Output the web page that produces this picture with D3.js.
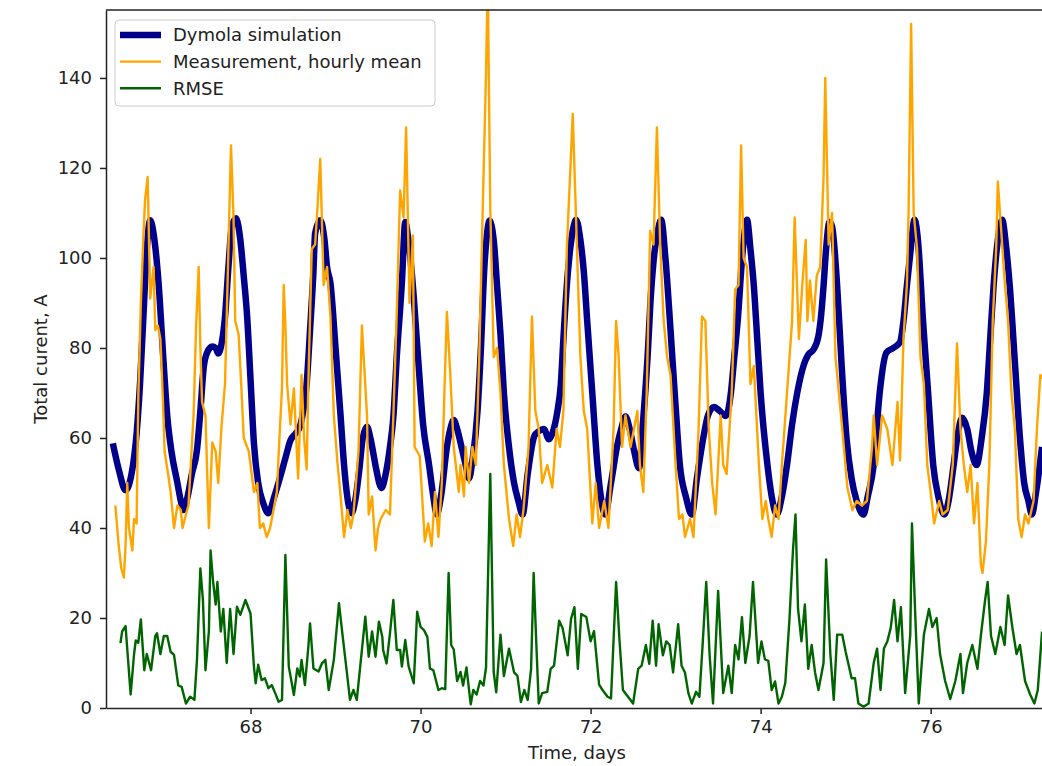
<!DOCTYPE html>
<html>
<head>
<meta charset="utf-8">
<script src="https://cdn.jsdelivr.net/npm/d3@7"></script>
<style>
  body { margin: 0; background: #fff; }
  text { font-family: "DejaVu Sans", sans-serif; }
</style>
</head>
<body>
<svg id="chart"></svg>
<script>
// Dymola simulation (days, A)
const simDays = [
  66.38,66.45,66.53,66.60,66.66,66.70,66.74,66.78,66.82,66.87,66.92,66.97,
  67.02,67.07,67.14,67.18,67.21,67.26,67.31,67.37,67.41,67.45,67.49,67.55,67.59,67.62,67.66,67.70,67.74,67.78,67.83,67.88,67.92,67.96,
  68.00,68.04,68.09,68.15,68.21,68.28,68.35,68.41,68.47,68.53,68.58,68.62,68.66,68.70,68.74,68.76,68.82,68.87,68.90,68.94,
  69.00,69.06,69.10,69.15,69.19,69.23,69.28,69.32,69.37,69.41,69.45,69.48,69.54,69.59,69.64,69.68,69.72,69.78,69.82,69.85,69.90,69.97,
  70.03,70.10,70.15,70.19,70.24,70.31,70.35,70.39,70.43,70.49,70.53,70.57,70.61,70.67,70.71,70.75,70.78,70.81,70.86,70.90,70.94,70.98,
  71.04,71.10,71.15,71.20,71.26,71.34,71.39,71.45,71.51,71.55,71.61,71.65,71.68,71.72,71.76,71.80,71.83,71.88,71.92,71.96,
  72.02,72.08,72.12,72.17,72.24,72.31,72.36,72.41,72.46,72.51,72.57,72.61,72.67,72.71,72.75,72.79,72.83,72.88,72.94,
  73.00,73.05,73.12,73.19,73.25,73.33,73.38,73.45,73.52,73.59,73.65,73.69,73.73,73.79,73.84,73.88,73.92,73.96,
  74.00,74.08,74.13,74.19,74.25,74.31,74.37,74.43,74.51,74.56,74.62,74.68,74.71,74.74,74.77,74.81,74.84,74.90,74.95,
  75.01,75.07,75.13,75.21,75.26,75.33,75.40,75.48,75.56,75.64,75.68,75.72,75.76,75.81,75.85,75.91,75.97,
  76.03,76.09,76.16,76.21,76.27,76.32,76.37,76.43,76.48,76.54,76.60,76.66,76.70,76.74,76.79,76.84,76.89,76.93,76.99,
  77.05,77.10,77.15,77.19,77.24,77.31
];
const simAmps = [
  58.8,53,48.4,52,61,72,87,102,108.4,104,94,79,
  65,57,50,46,44,47,52,57.3,66,75.8,79,80.3,80,78.8,81,87,98,107,108.8,104,96,87,
  73,58.8,50,45.5,43.3,47,51.4,55.5,59.5,61,62.5,66,72,84,97,105.5,108.4,104,98,94.4,
  80,64.7,54,45.5,43.3,46,53,60,62.5,60,56,52.9,48.9,52,58,64.7,78,94.4,108,105,96,78,
  63,54,47,43,47,58,62,64,62,57.3,54,51,55,66,80,97.8,105,108.3,104,93.8,83,70,
  58,50,46,43,52,60.5,61.5,62,59.7,61,66,72,82,93.8,102,107,108.5,104,97,86,
  70,54,47,43,50,58,62,64.8,62,57.3,53.3,62,78,92,101,106,108.5,100,84,
  67,54,47,43,51,60.5,65,66.9,66,64.9,70,78,86,101.8,108.5,102,93.8,82,
  70,54,47,43,47,54,63,70,76.4,78.5,79.6,82.7,87,93.8,102,108,107,93.8,77,
  60,51,46,43,47,54,70,79,80,81.3,86,93.8,101,108.5,104,86,70,
  54,47,43,46,54,61,64.5,62,57,54,60,70,82,93.8,104,108.5,102,93.8,77,
  60,50,46,43,48,58
];

// Measurement, hourly mean (days, A)
const measDays = [
  66.41,66.45,66.48,66.51,66.53,66.55,66.57,66.61,66.63,66.66,66.68,66.71,66.74,66.76,66.79,66.82,66.86,66.88,66.91,66.94,66.97,66.99,
  67.03,67.06,67.10,67.14,67.18,67.20,67.24,67.27,67.30,67.33,67.36,67.39,67.41,67.43,67.47,67.51,67.55,67.59,67.62,67.66,67.70,67.74,67.77,67.80,67.82,67.86,67.89,67.92,67.98,
  68.04,68.08,68.11,68.15,68.19,68.23,68.27,68.31,68.34,68.37,68.39,68.41,68.43,68.47,68.51,68.56,68.60,68.63,68.66,68.68,68.72,68.76,68.79,68.82,68.86,68.90,68.94,68.98,
  69.02,69.06,69.10,69.14,69.18,69.21,69.24,69.27,69.31,69.34,69.37,69.39,69.43,69.47,69.50,69.53,69.59,69.64,69.68,69.72,69.76,69.80,69.83,69.87,69.91,69.93,69.99,
  70.05,70.09,70.13,70.17,70.21,70.25,70.28,70.31,70.35,70.39,70.45,70.47,70.51,70.53,70.57,70.61,70.65,70.69,70.73,70.77,70.79,70.82,70.86,70.90,70.94,70.98,
  71.04,71.09,71.13,71.17,71.21,71.27,71.31,71.35,71.39,71.43,71.49,71.55,71.60,71.64,71.68,71.72,71.76,71.79,71.84,71.88,71.92,71.96,
  72.02,72.06,72.10,72.16,72.21,72.27,72.30,72.33,72.37,72.41,72.47,72.51,72.55,72.58,72.62,72.66,72.70,72.74,72.78,72.82,72.86,72.90,72.94,
  73.00,73.04,73.08,73.11,73.17,73.21,73.27,73.31,73.35,73.39,73.43,73.47,73.53,73.56,73.60,73.66,73.70,73.74,73.77,73.80,73.84,73.88,73.92,73.98,
  74.02,74.06,74.09,74.13,74.17,74.21,74.25,74.31,74.37,74.40,74.45,74.49,74.53,74.55,74.58,74.62,74.66,74.70,74.74,74.76,74.80,74.84,74.88,74.92,74.96,
  75.02,75.08,75.13,75.19,75.25,75.31,75.33,75.37,75.43,75.49,75.55,75.61,75.64,75.68,75.72,75.74,75.77,75.80,75.84,75.88,75.92,75.96,
  76.00,76.04,76.10,76.14,76.20,76.26,76.31,76.35,76.39,76.43,76.47,76.51,76.55,76.59,76.61,76.65,76.69,76.73,76.77,76.79,76.83,76.87,76.91,76.95,76.99,
  77.03,77.07,77.11,77.15,77.21,77.25,77.29,77.33
];
const measAmps = [
  45,36,31,29,36,50,40,35,42,41,69,90,105,113,118,91,98,84,85,82,68,57,
  52,48,40,45,44,40,43,45,55,65,85,98,80,68,65,40,59,57,50,63,72,102,125,109,86,83,72,60,57,
  48,50,40,41,38,40,44,48,60,71,94,85,72,63,71,51,74,60,53,72,102,103,112,122,94,98,87,65,
  55,47,38,44,40,43,50,57,85,75,65,43,47,35,40,42,44,43,65,88,115,109,129,90,105,58,56,
  37,41,36,48,38,50,70,88,74,58,48,54,47,58,50,58,54,78,110,141,162,111,78,80,70,54,
  42,36,43,38,44,58,87,66,62,50,54,49,62,58,66,102,119,132,102,78,66,62,
  41,50,40,46,40,62,86,78,58,65,58,62,66,54,48,70,106,103,129,102,86,78,74,
  54,42,43,38,42,38,62,87,86,62,50,43,65,54,52,70,93,94,125,100,98,72,76,54,
  42,46,42,38,45,42,54,70,86,109,82,94,104,86,95,86,96,98,118,140,103,110,78,70,62,
  49,44,46,45,46,58,65,54,65,62,54,68,55,82,94,110,152,110,102,78,72,54,
  48,41,46,43,44,54,81,62,54,48,54,41,50,32,30,37,54,86,102,117,106,95,86,70,62,
  42,38,43,41,46,62,74,73
];

// RMSE (days, A)
const rmseDays = [
  66.47,66.49,66.53,66.59,66.63,66.65,66.68,66.71,66.75,66.78,66.83,66.88,66.90,66.94,66.98,
  67.02,67.06,67.10,67.15,67.19,67.24,67.29,67.34,67.37,67.41,67.44,67.47,67.51,67.53,67.56,67.59,67.61,67.65,67.68,67.72,67.76,67.80,67.84,67.88,67.94,
  68.00,68.04,68.06,68.09,68.13,68.17,68.21,68.25,68.29,68.33,68.37,68.41,68.45,68.51,68.55,68.58,68.60,68.64,68.68,68.70,68.74,68.80,68.84,68.88,68.92,68.98,
  69.04,69.08,69.13,69.17,69.21,69.25,69.29,69.35,69.39,69.43,69.47,69.51,69.55,69.56,69.60,69.64,69.68,69.72,69.76,69.78,69.82,69.86,69.92,69.96,
  70.00,70.04,70.08,70.11,70.15,70.21,70.25,70.29,70.33,70.36,70.39,70.43,70.47,70.50,70.54,70.59,70.62,70.66,70.70,70.74,70.77,70.82,70.86,70.89,70.94,70.98,
  71.04,71.10,71.14,71.18,71.22,71.26,71.30,71.33,71.36,71.39,71.43,71.49,71.53,71.57,71.63,71.67,71.73,71.77,71.81,71.85,71.89,71.95,
  72.00,72.04,72.10,72.14,72.20,72.24,72.30,72.34,72.38,72.44,72.50,72.56,72.60,72.65,72.69,72.73,72.77,72.80,72.85,72.89,72.93,72.97,
  73.03,73.07,73.11,73.15,73.19,73.24,73.28,73.32,73.36,73.40,73.44,73.50,73.56,73.62,73.66,73.70,73.74,73.78,73.82,73.87,73.91,73.97,
  74.01,74.05,74.09,74.13,74.17,74.21,74.25,74.29,74.34,74.38,74.41,74.44,74.48,74.52,74.56,74.60,74.64,74.68,74.74,74.77,74.82,74.86,74.90,74.96,
  75.00,75.07,75.11,75.15,75.21,75.27,75.33,75.37,75.41,75.45,75.49,75.53,75.57,75.61,75.65,75.70,75.76,75.78,75.82,75.86,75.92,75.98,
  76.02,76.07,76.11,76.17,76.23,76.29,76.35,76.38,76.43,76.49,76.55,76.59,76.64,76.67,76.71,76.76,76.82,76.87,76.91,76.96,
  77.01,77.05,77.11,77.17,77.22,77.26,77.31
];
const rmseAmps = [
  14.4,17,18.2,3,12,15,14.5,19.7,8.4,12,8.4,16,16.6,12,16,
  16,12.5,11.8,5,4.7,1,2.5,1.8,10.7,31,24,8.4,17,35,28,23,28,17,22,10,22,12,22.5,20.7,24,
  21,9.2,5.5,9.6,6.2,6.6,4.4,5.1,3.3,1.4,1.8,34,9.2,2.9,8.8,7,10.7,5.1,13.6,18.8,8.8,8.1,9.9,10.7,4,10.7,
  23.3,16.6,8.4,1.8,4,1.8,9.2,20.3,11.4,17,11.4,19.2,15.8,12.9,9.9,16.6,24,12.9,12.9,9.2,15.1,9.2,5.5,21.4,
  18,17.3,15.8,8.8,8.4,4,4.4,4.2,30,14,13,6,8,5,9,0.8,4,3,6,5,9,52,8,3.5,16.3,7.1,
  13.2,7.9,7.1,1.3,4,1.8,8.7,30,15,1,3.3,3.6,8.7,9.4,19.4,17.8,11.7,19.8,22.4,8.7,20.9,20.2,
  14.8,17.1,5.2,4,2.5,2.1,28,15,4,2.5,1,8.7,9.4,14,9.8,19.4,9.4,18.6,11.7,14.8,14,7.9,
  18.6,9.4,7.9,3.3,1,3.6,2.5,14.8,28,11.7,1,26,3.3,9.4,3.3,14,10.8,20.2,10,16,28,10,
  14.8,10.8,10.5,4,5.9,1,2.5,5.6,20,35,43,22,14.8,23,8.7,14,7.9,4,10,33,12,1.8,16.3,16.3,
  12.5,6.6,6.6,1,0.3,1,10,13.2,4,13.2,14.8,17.8,24,14.8,22.4,3.3,16.3,41,20,1,16.3,22,
  18,20,12,6,2,6,12,3.3,10,14,8.7,16,24,28,16,12,18,14,25,18,
  12,14,6,3,1,4,17
];

const xTicks = [68, 70, 72, 74, 76];
const yTicks = [0, 20, 40, 60, 80, 100, 120, 140];
const seriesNames = ["Dymola simulation", "Measurement, hourly mean", "RMSE"];
const seriesColors = ["#00008b", "#ffa500", "#006400"];

const width = 1042, height = 766;
const margin = { top: 10, right: -6, bottom: 58, left: 106 };
const fontSize = 18;
const ink = "#222";

const svg = d3.select("#chart").attr("width", width).attr("height", height);

const x = d3.scaleLinear().domain([66.3, 77.38]).range([margin.left, width - margin.right]);
const y = d3.scaleLinear().domain([0, 155.1]).range([height - margin.bottom, margin.top]);

svg.append("clipPath").attr("id", "plot-clip")
  .append("rect")
  .attr("x", x.range()[0]).attr("y", margin.top)
  .attr("width", x.range()[1] - x.range()[0])
  .attr("height", y(0) - margin.top);

const plot = svg.append("g").attr("clip-path", "url(#plot-clip)");

// simulation: smooth thick line
plot.append("path")
  .datum(d3.zip(simDays, simAmps))
  .attr("fill", "none")
  .attr("stroke", seriesColors[0])
  .attr("stroke-width", 6.5)
  .attr("stroke-linejoin", "round")
  .attr("d", d3.line().x(d => x(d[0])).y(d => y(d[1])).curve(d3.curveMonotoneX));

plot.append("path")
  .datum(d3.zip(measDays, measAmps))
  .attr("fill", "none")
  .attr("stroke", seriesColors[1])
  .attr("stroke-width", 2.4)
  .attr("stroke-linejoin", "round")
  .attr("d", d3.line().x(d => x(d[0])).y(d => y(d[1])));

plot.append("path")
  .datum(d3.zip(rmseDays, rmseAmps))
  .attr("fill", "none")
  .attr("stroke", seriesColors[2])
  .attr("stroke-width", 2.4)
  .attr("stroke-linejoin", "round")
  .attr("d", d3.line().x(d => x(d[0])).y(d => y(d[1])));

// axes
const xAxis = svg.append("g")
  .attr("transform", `translate(0,${y(0)})`)
  .call(d3.axisBottom(x).tickValues(xTicks).tickFormat(d3.format("d")).tickSize(6).tickSizeOuter(0).tickPadding(6));

const yAxis = svg.append("g")
  .attr("transform", `translate(${margin.left},0)`)
  .call(d3.axisLeft(y).tickValues(yTicks).tickFormat(d3.format("d")).tickSize(6).tickSizeOuter(0).tickPadding(8));

[xAxis, yAxis].forEach(g => {
  g.attr("font-size", fontSize).attr("font-family", "DejaVu Sans, sans-serif").attr("color", ink);
  g.select(".domain").attr("stroke-width", 1.5);
  g.selectAll(".tick line").attr("stroke-width", 1.5);
});

// top spine
svg.append("line")
  .attr("x1", x.range()[0]).attr("x2", x.range()[1])
  .attr("y1", margin.top).attr("y2", margin.top)
  .attr("stroke", ink).attr("stroke-width", 1.5);

// axis labels
svg.append("text")
  .attr("x", (x.range()[0] + x.range()[1]) / 2)
  .attr("y", 759)
  .attr("text-anchor", "middle")
  .attr("font-size", fontSize)
  .attr("fill", ink)
  .text("Time, days");

svg.append("text")
  .attr("transform", `translate(47,${(y(0) + margin.top) / 2}) rotate(-90)`)
  .attr("text-anchor", "middle")
  .attr("font-size", fontSize)
  .attr("fill", ink)
  .text("Total curent, A");

// legend
const legend = svg.append("g");
legend.append("rect")
  .attr("x", 115).attr("y", 20)
  .attr("width", 320).attr("height", 86)
  .attr("rx", 4)
  .attr("fill", "#fff").attr("fill-opacity", 0.8)
  .attr("stroke", "#cccccc");

const widths = [6.5, 2.4, 2.4];
seriesNames.forEach((name, i) => {
  const ly = 35 + i * 26.6;
  legend.append("line")
    .attr("x1", 120).attr("x2", 161)
    .attr("y1", ly).attr("y2", ly)
    .attr("stroke", seriesColors[i])
    .attr("stroke-width", widths[i]);
  legend.append("text")
    .attr("x", 173).attr("y", ly)
    .attr("dy", "0.35em")
    .attr("font-size", fontSize)
    .attr("fill", ink)
    .text(name);
});
</script>
</body>
</html>
